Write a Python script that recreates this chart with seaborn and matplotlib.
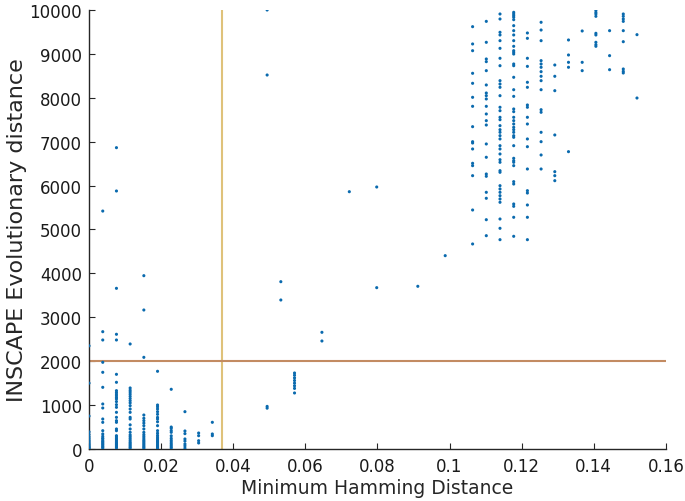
import pandas as pd
import numpy as np
import matplotlib
matplotlib.use("Agg")
import matplotlib.pyplot as plt
import seaborn as sns

# Minimum Hamming distance columns (x) and evolutionary distances in each column (y)
hd_cols = [0.0, 0.0038, 0.0076, 0.0114, 0.0152, 0.019, 0.0228, 0.0266, 0.0304, 0.0342,
           0.0494, 0.0532, 0.057, 0.0646, 0.0722, 0.0798, 0.0912, 0.0988,
           0.1064, 0.1102, 0.114, 0.1178, 0.1216, 0.1254, 0.1292, 0.133,
           0.1368, 0.1406, 0.1444, 0.1482, 0.152]

ev_cols = [
    [2350, 1500, 750, 390, 330, 280, 240, 200, 170, 140, 110, 85, 60, 40, 20, 5],
    [5420, 2672, 2483, 1975, 1747, 1405, 1025, 934, 683, 607, 417, 342, 289, 250, 228,
     190, 166, 140, 114, 90, 61, 40, 15],
    [6864, 5877, 3660, 2613, 2483, 1701, 1519, 1329, 1290, 1250, 1210, 1170, 1139, 1080,
     1010, 949, 835, 721, 645, 607, 456, 417, 303, 273, 240, 210, 180, 150, 120, 95, 70, 45, 23],
    [2392, 1390, 1340, 1298, 1250, 1200, 1150, 1100, 1050, 987, 911, 835, 721, 683, 550,
     456, 380, 320, 280, 240, 200, 160, 130, 100, 70, 40, 15],
    [3948, 3166, 2088, 774, 700, 645, 590, 531, 456, 380, 330, 290, 250, 210, 180, 150,
     120, 90, 60, 35, 10],
    [1770, 1002, 960, 911, 850, 790, 720, 683, 620, 531, 417, 360, 310, 270, 230, 200,
     170, 140, 110, 80, 55, 30, 10],
    [1360, 500, 471, 420, 380, 300, 244, 200, 160, 120, 85, 50, 20],
    [850, 410, 350, 228, 180, 114, 70, 20],
    [364, 303, 189, 137],
    [608, 342, 303],
    [10000, 8519, 970, 930],
    [3811, 3394],
    [1731, 1680, 1620, 1560, 1500, 1440, 1380, 1276],
    [2658, 2460],
    [5861],
    [5968, 3675],
    [3706],
    [4404],
    [9620, 9226, 9073, 8558, 8330, 8011, 7806, 7342, 7000, 6970, 6834, 6508, 6454, 6226,
     5444, 4670],
    [9741, 9264, 8884, 8823, 8618, 8292, 8109, 8048, 7973, 7806, 7631, 7479, 7380, 6948,
     6645, 6264, 6212, 5847, 5711, 5223, 4859],
    [9909, 9795, 9492, 9431, 9301, 9127, 8900, 8731, 8390, 8314, 8239, 8048, 7784, 7706,
     7556, 7501, 7365, 7274, 7214, 7137, 7062, 6909, 6834, 6720, 6590, 6531, 6340, 6303,
     5998, 5923, 5847, 5770, 5695, 5620, 5239, 5027, 4768],
    [9947, 9909, 9871, 9834, 9779, 9643, 9529, 9431, 9301, 9173, 9073, 9036, 8997, 8770,
     8731, 8467, 8184, 8033, 7745, 7684, 7556, 7479, 7403, 7328, 7274, 7214, 7137, 7100,
     6909, 6622, 6567, 6531, 6454, 6090, 6036, 5581, 5528, 5278, 4845],
    [9476, 9355, 8900, 8716, 8353, 8239, 7836, 7784, 7556, 7403, 7062, 6886, 6378, 5884,
     5831, 5558, 5278, 4768],
    [9720, 9544, 9301, 8846, 8770, 8695, 8595, 8490, 8390, 8184, 7729, 7670, 7214, 7000,
     6697, 6378],
    [8747, 8490, 8162, 7153, 6317, 6226, 6112],
    [9317, 8975, 8808, 8695, 6773],
    [9522, 8808, 8618],
    [9990, 9945, 9909, 9856, 9469, 9431, 9264, 9210, 9173],
    [9529, 8960, 8640],
    [9909, 9856, 9795, 9741, 9529, 9278, 8656, 8603, 8565],
    [9438, 7995],
]

hd_threshold = 0.037
ev_threshold = 2000
x_ticks = [0, 0.02, 0.04, 0.06, 0.08, 0.1, 0.12, 0.14, 0.16]
x_ticklabels = ["0", "0.02", "0.04", "0.06", "0.08", "0.1", "0.12", "0.14", "0.16"]
y_ticks = [0, 1000, 2000, 3000, 4000, 5000, 6000, 7000, 8000, 9000, 10000]

rows = []
for x, ys in zip(hd_cols, ev_cols):
    for y in ys:
        rows.append((x, y))
df = pd.DataFrame(rows, columns=["hd", "ev"])

sns.set_style("ticks")
plt.rcParams['font.family'] = ['DejaVu Sans']
plt.rcParams['xtick.direction'] = 'in'
plt.rcParams['ytick.direction'] = 'in'

fig = plt.figure(figsize=(6.85, 5.02), dpi=100)
ax = fig.add_axes([0.130, 0.1036, 0.842, 0.8745])

sns.scatterplot(data=df, x="hd", y="ev", s=5, color="#0A6AAE", edgecolor="none",
                linewidth=0, ax=ax, zorder=3)

ax.axvline(hd_threshold, color="#DFC27A", lw=1.5, zorder=2)
ax.axhline(ev_threshold, color="#C38B62", lw=1.5, zorder=2)

ax.set_xlim(0, 0.16)
ax.set_ylim(0, 10000)
ax.set_xticks(x_ticks)
ax.set_xticklabels(x_ticklabels)
ax.set_yticks(y_ticks)
ax.tick_params(labelsize=12, length=4, width=0.8, colors="#262626", labelcolor="#1a1a1a")
ax.tick_params(axis="x", pad=6)
ax.tick_params(axis="y", pad=5)
ax.set_xlabel("Minimum Hamming Distance", fontsize=13.5, labelpad=2)
ax.set_ylabel("INSCAPE Evolutionary distance", fontsize=16, labelpad=2)
sns.despine(ax=ax)
for s in ["left", "bottom"]:
    ax.spines[s].set_color("#262626")
    ax.spines[s].set_linewidth(1.0)

fig.savefig("out.png", dpi=100)
